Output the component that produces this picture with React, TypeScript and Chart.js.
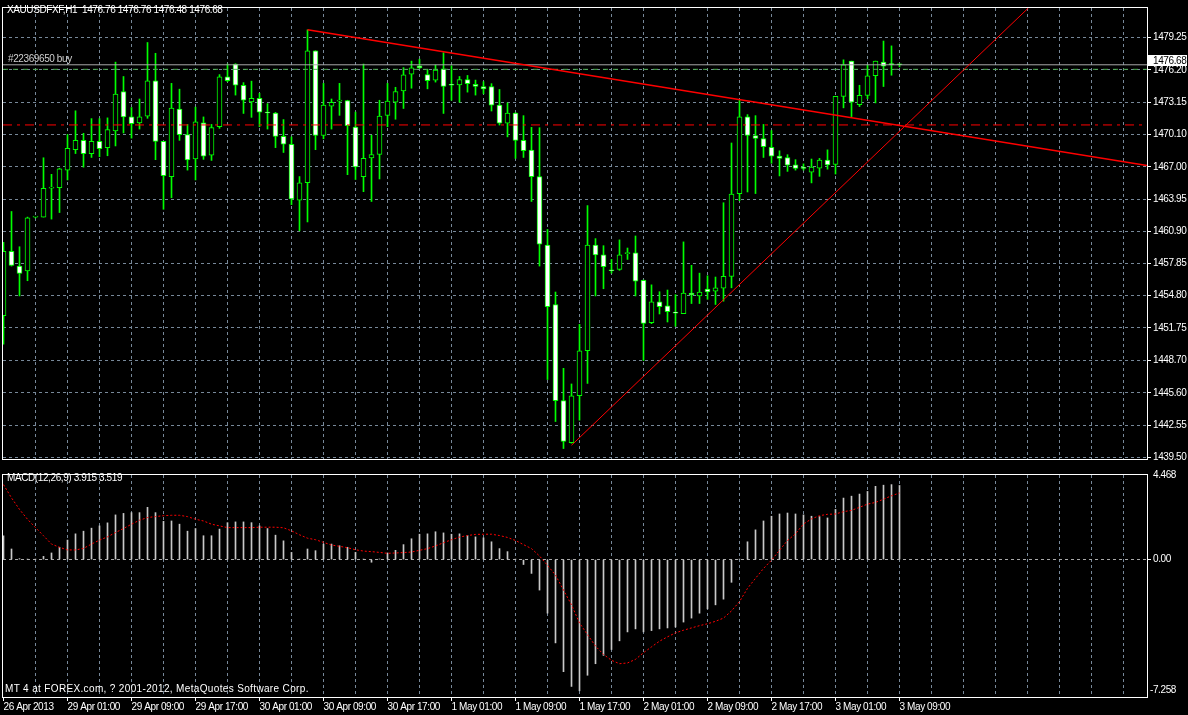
import React, { useEffect, useRef } from "react";
import { Chart, registerables } from "chart.js";

Chart.register(...registerables);

// ---------- texts ----------
const HEADER_TEXT = "XAUUSDFXF,H1  1476.76 1476.76 1476.48 1476.68";
const ORDER_TEXT = "#22369650 buy";
const MACD_TEXT = "MACD(12,26,9) 3.915 3.519";
const COPYRIGHT_TEXT = "MT 4 at FOREX.com, ? 2001-2012, MetaQuotes Software Corp.";
const LAST_PRICE_TEXT = "1476.68";
const MACD_MAX_TEXT = "4.468";
const MACD_MIN_TEXT = "-7.258";

// ---------- time axis ----------
const TIME_LABELS = [
  "26 Apr 2013", "29 Apr 01:00", "29 Apr 09:00", "29 Apr 17:00", "30 Apr 01:00",
  "30 Apr 09:00", "30 Apr 17:00", "1 May 01:00", "1 May 09:00", "1 May 17:00",
  "2 May 01:00", "2 May 09:00", "2 May 17:00", "3 May 01:00", "3 May 09:00",
];
const BARS_PER_LABEL = 8;
const BARS_PER_GRID = 4;
const X_MIN = -0.0625;
const X_MAX = 142.9375;

// ---------- H1 candles ----------
const OPEN = [
  1452.92, 1459.00, 1457.61, 1457.15, 1462.25, 1462.25, 1465.00, 1465.03, 1466.70, 1468.64,
  1469.52, 1468.27, 1469.42, 1468.83, 1470.41, 1474.15, 1471.74, 1471.18, 1471.80, 1475.17,
  1469.42, 1466.09, 1472.49, 1470.07, 1467.75, 1471.18, 1468.12, 1470.81, 1475.54, 1476.75,
  1474.74, 1473.16, 1473.50, 1472.14, 1472.11, 1469.89, 1469.15, 1463.86, 1465.50, 1478.01,
  1469.98, 1472.76, 1473.23, 1473.28, 1470.78, 1466.09, 1467.85, 1468.18, 1471.89, 1473.13,
  1474.21, 1475.79, 1476.59, 1475.75, 1475.23, 1476.29, 1474.80, 1474.77, 1475.27, 1474.83,
  1474.62, 1474.62, 1472.86, 1471.15, 1472.11, 1469.52, 1468.59, 1466.09, 1459.60, 1453.95,
  1444.86, 1440.87, 1445.32, 1449.59, 1459.60, 1458.67, 1457.19, 1457.28, 1458.79, 1458.86,
  1456.26, 1452.24, 1454.22, 1453.85, 1453.19, 1453.11, 1455.05, 1454.78, 1455.42, 1455.24,
  1455.52, 1456.63, 1464.48, 1471.74, 1469.98, 1469.70, 1468.87, 1468.03, 1467.88, 1467.20,
  1466.90, 1466.51, 1466.88, 1467.66, 1467.25, 1473.69, 1477.03, 1472.91, 1473.78, 1475.64,
  1476.93, 1476.73, 1476.76,
];
const HIGH = [
  1459.87, 1462.78, 1459.44, 1462.25, 1462.31, 1467.87, 1466.30, 1466.88, 1470.07, 1472.32,
  1470.19, 1471.58, 1471.58, 1471.65, 1476.93, 1475.57, 1472.63, 1473.44, 1478.79, 1477.77,
  1469.42, 1474.92, 1474.37, 1471.03, 1472.67, 1471.74, 1471.03, 1475.75, 1476.75, 1476.78,
  1474.99, 1475.13, 1473.97, 1473.00, 1472.17, 1471.49, 1469.85, 1466.09, 1479.99, 1478.01,
  1474.92, 1473.44, 1474.92, 1473.32, 1472.20, 1476.75, 1470.01, 1473.32, 1474.92, 1474.55,
  1476.41, 1477.03, 1477.21, 1476.25, 1476.66, 1477.82, 1476.59, 1475.57, 1475.67, 1475.23,
  1475.08, 1474.89, 1474.34, 1473.07, 1472.14, 1471.86, 1470.75, 1470.72, 1461.08, 1455.15,
  1447.92, 1446.44, 1452.09, 1463.34, 1460.21, 1459.54, 1458.24, 1460.09, 1459.32, 1460.46,
  1456.29, 1455.83, 1455.18, 1455.34, 1454.90, 1459.90, 1457.68, 1456.94, 1456.69, 1456.57,
  1463.61, 1469.27, 1473.38, 1471.96, 1471.86, 1471.03, 1470.45, 1468.53, 1468.16, 1467.69,
  1467.29, 1467.75, 1467.81, 1468.62, 1473.69, 1477.15, 1477.03, 1474.74, 1476.66, 1477.03,
  1478.93, 1478.47, 1476.76,
];
const LOW = [
  1450.20, 1457.61, 1454.78, 1456.22, 1462.17, 1462.25, 1462.06, 1462.68, 1465.77, 1468.27,
  1466.98, 1467.90, 1467.97, 1468.06, 1468.99, 1470.22, 1469.73, 1470.59, 1471.61, 1467.69,
  1462.99, 1464.08, 1469.52, 1466.70, 1465.77, 1467.72, 1467.62, 1470.66, 1475.08, 1473.81,
  1472.07, 1471.70, 1470.81, 1470.59, 1468.83, 1468.37, 1463.43, 1460.95, 1461.79, 1468.64,
  1469.67, 1470.59, 1471.89, 1466.27, 1465.81, 1464.66, 1463.73, 1465.86, 1470.81, 1471.52,
  1472.54, 1474.46, 1476.31, 1474.40, 1475.04, 1472.07, 1473.32, 1473.13, 1474.09, 1473.81,
  1473.93, 1472.30, 1470.97, 1469.85, 1467.81, 1467.90, 1463.73, 1457.61, 1446.86, 1442.88,
  1440.32, 1440.83, 1443.01, 1446.49, 1454.78, 1455.46, 1456.94, 1457.21, 1458.24, 1454.78,
  1448.66, 1452.15, 1453.07, 1452.31, 1451.90, 1453.11, 1454.06, 1454.06, 1454.46, 1453.97,
  1454.28, 1455.55, 1463.80, 1464.63, 1464.48, 1467.90, 1467.35, 1466.15, 1466.58, 1466.70,
  1466.70, 1465.49, 1466.11, 1466.79, 1466.33, 1472.60, 1471.77, 1472.72, 1473.47, 1473.07,
  1474.62, 1475.69, 1476.48,
];
const CLOSE = [
  1459.00, 1457.68, 1456.91, 1462.19, 1462.29, 1464.97, 1465.03, 1466.83, 1468.77, 1469.52,
  1468.27, 1469.42, 1468.74, 1470.54, 1473.90, 1471.74, 1471.09, 1471.74, 1475.17, 1469.42,
  1466.18, 1472.58, 1470.07, 1467.66, 1471.28, 1468.03, 1470.72, 1475.54, 1475.17, 1474.74,
  1473.32, 1473.50, 1472.20, 1472.11, 1469.89, 1469.15, 1463.96, 1465.50, 1478.01, 1469.98,
  1472.86, 1473.13, 1473.28, 1470.91, 1467.01, 1467.81, 1468.18, 1471.83, 1473.23, 1474.15,
  1475.73, 1476.38, 1476.38, 1475.17, 1476.19, 1474.62, 1474.74, 1475.27, 1474.90, 1474.62,
  1474.40, 1472.86, 1471.15, 1472.11, 1469.52, 1468.55, 1466.09, 1459.69, 1453.76, 1444.86,
  1440.99, 1445.32, 1449.59, 1459.60, 1458.67, 1457.56, 1457.17, 1458.67, 1458.84, 1456.17,
  1452.18, 1454.22, 1453.76, 1453.30, 1453.15, 1455.05, 1454.87, 1455.15, 1455.15, 1455.55,
  1456.63, 1464.42, 1471.74, 1469.98, 1469.70, 1468.93, 1468.03, 1467.81, 1467.16, 1466.86,
  1466.87, 1466.98, 1467.66, 1467.20, 1473.69, 1476.68, 1473.13, 1473.78, 1475.64, 1477.03,
  1476.56, 1476.69, 1476.68,
];

// ---------- MACD(12,26,9) ----------
const MACD_MAIN = [
  1.26, 0.56, 0.05, 0.02, 0.02, 0.17, 0.35, 0.65, 1.03, 1.36,
  1.50, 1.66, 1.78, 1.94, 2.36, 2.44, 2.48, 2.48, 2.76, 2.48,
  2.02, 2.04, 1.87, 1.50, 1.64, 1.26, 1.26, 1.61, 1.95, 1.99,
  1.99, 1.95, 1.78, 1.64, 1.29, 0.99, 0.38, 0.02, 0.56, 0.47,
  0.82, 0.82, 0.73, 0.65, 0.38, 0.02, -0.14, 0.03, 0.35, 0.49,
  0.79, 1.10, 1.34, 1.36, 1.47, 1.41, 1.34, 1.36, 1.27, 1.20,
  1.15, 0.94, 0.58, 0.42, 0.02, -0.26, -0.73, -1.61, -2.83, -4.40,
  -5.92, -6.70, -6.93, -6.11, -5.50, -5.06, -4.75, -4.29, -3.82, -3.66,
  -3.82, -3.75, -3.66, -3.61, -3.56, -3.30, -3.09, -2.83, -2.60, -2.39,
  -2.09, -1.20, 0.02, 0.94, 1.57, 2.04, 2.29, 2.41, 2.46, 2.41,
  2.36, 2.29, 2.27, 2.20, 2.65, 3.25, 3.35, 3.46, 3.60, 3.87,
  3.93, 3.96, 3.915,
];
const MACD_SIGNAL = [
  3.96, 3.26, 2.65, 2.13, 1.69, 1.26, 0.82, 0.65, 0.51, 0.51,
  0.59, 0.82, 1.03, 1.20, 1.43, 1.64, 1.87, 2.08, 2.22, 2.27,
  2.32, 2.34, 2.34, 2.27, 2.13, 2.04, 1.87, 1.78, 1.69, 1.69,
  1.69, 1.69, 1.71, 1.71, 1.71, 1.68, 1.52, 1.31, 1.13, 1.05,
  0.91, 0.77, 0.70, 0.63, 0.52, 0.45, 0.42, 0.38, 0.33, 0.35,
  0.37, 0.40, 0.49, 0.58, 0.72, 0.89, 1.05, 1.19, 1.27, 1.33,
  1.34, 1.34, 1.27, 1.17, 1.01, 0.79, 0.58, 0.19, -0.30, -0.82,
  -1.61, -2.39, -3.35, -3.96, -4.57, -5.01, -5.32, -5.50, -5.46, -5.27,
  -4.92, -4.61, -4.31, -4.08, -3.87, -3.73, -3.61, -3.49, -3.39, -3.26,
  -3.09, -2.71, -2.22, -1.52, -0.99, -0.47, -0.03, 0.49, 1.01, 1.36,
  1.88, 2.15, 2.32, 2.39, 2.41, 2.53, 2.60, 2.76, 2.93, 3.02,
  3.19, 3.37, 3.519,
];

// ---------- axes ----------
const PRICE_TICKS = [
  1479.25, 1476.20, 1473.15, 1470.10, 1467.00, 1463.95, 1460.90,
  1457.85, 1454.80, 1451.75, 1448.70, 1445.60, 1442.55, 1439.50,
];
const PRICE_MIN = 1439.33;
const PRICE_MAX = 1482.06;
const MACD_MIN = -7.258;
const MACD_MAX = 4.468;
const MACD_TICKS = [0];

// ---------- chart objects ----------
const BID_PRICE = 1476.68;
const ORDER_PRICE = 1476.25;
const STOP_PRICE = 1470.98;
const TREND_DOWN_X = [38, 142.94];
const TREND_DOWN_Y = [1479.99, 1467.13];
const TREND_UP_X = [71, 128.1];
const TREND_UP_Y = [1440.63, 1482.06];

// ---------- styles ----------
const FONT = '"Liberation Sans", Arial, sans-serif';
const GRID = "#778899";
const CANDLE = "#00ff00";
const W = 1188;
const PRICE_H = 467;
const MACD_H = 248;

const gridTickValues = () => {
  const out: number[] = [];
  for (let k = 0; k <= Math.floor(X_MAX); k += BARS_PER_GRID) out.push(k);
  return out;
};

const labelFor = (v: number) => {
  const k = Math.round(v);
  if (k % BARS_PER_LABEL !== 0) return "";
  const i = k / BARS_PER_LABEL;
  return i < TIME_LABELS.length ? TIME_LABELS[i] : "";
};

const framePlugin = {
  id: "frame",
  beforeDraw(chart: any) {
    chart.ctx.letterSpacing = "-0.4px";
  },
  afterDraw(chart: any) {
    const { ctx, chartArea: a } = chart;
    ctx.save();
    ctx.strokeStyle = "#ffffff";
    ctx.lineWidth = 1;
    ctx.setLineDash([]);
    ctx.strokeRect(a.left - 0.5, a.top - 0.5, a.right - a.left + 1, a.bottom - a.top + 1);
    ctx.restore();
  },
};

const hLine = (y: number) => [
  { x: X_MIN, y },
  { x: X_MAX, y },
];

function priceConfig(): any {
  const bodies = OPEN.map((o, i) => ({ x: i, y: [o, CLOSE[i]] }));
  const wicks = LOW.map((l, i) => ({ x: i, y: [l, HIGH[i]] }));
  const bodyColors = OPEN.map((o, i) => (CLOSE[i] < o ? "#ffffff" : "#000000"));
  const lineBase = { type: "line", pointRadius: 0, borderWidth: 1, tension: 0, fill: false };
  return {
    type: "bar",
    data: {
      datasets: [
        { ...lineBase, label: "down trend", data: TREND_DOWN_X.map((x, i) => ({ x, y: TREND_DOWN_Y[i] })), borderColor: "#ff0000", borderWidth: 1.5, order: 0 },
        { ...lineBase, label: "up trend", data: TREND_UP_X.map((x, i) => ({ x, y: TREND_UP_Y[i] })), borderColor: "#ff0000", order: 0 },
        { ...lineBase, label: "bid", data: hLine(BID_PRICE), borderColor: "#a8a8a8", order: 1 },
        { ...lineBase, label: "order", data: hLine(ORDER_PRICE), borderColor: "#4caf50", borderDash: [5, 5], order: 1 },
        { ...lineBase, label: "stop", data: hLine(STOP_PRICE), borderColor: "#ff0000", borderDash: [9, 5, 3, 5], order: 1 },
        {
          type: "bar", label: "body", data: bodies, backgroundColor: bodyColors, borderColor: CANDLE,
          borderWidth: 1, borderSkipped: false, barThickness: 5, grouped: false, minBarLength: 1, order: 2,
        },
        {
          type: "bar", label: "wick", data: wicks, backgroundColor: CANDLE, borderWidth: 0,
          barThickness: 1, grouped: false, minBarLength: 1, order: 3,
        },
      ],
    },
    options: {
      responsive: false,
      animation: false,
      events: [],
      layout: { padding: { left: 3, top: 3, right: 0, bottom: 3 } },
      plugins: { legend: { display: false }, tooltip: { enabled: false } },
      scales: {
        x: {
          type: "linear", min: X_MIN, max: X_MAX, offset: false,
          afterBuildTicks: (s: any) => { s.ticks = gridTickValues().map((v) => ({ value: v })); },
          afterFit: (s: any) => { s.height = 0; },
          ticks: { display: false },
          grid: { offset: false, drawTicks: false, color: (c: any) => (c.tick && c.tick.value === 0 ? "rgba(0,0,0,0)" : GRID) },
          border: { display: false, dash: [3, 3] },
        },
        y: {
          type: "linear", position: "right", min: PRICE_MIN, max: PRICE_MAX,
          afterBuildTicks: (s: any) => { s.ticks = PRICE_TICKS.map((v) => ({ value: v })); },
          afterFit: (s: any) => { s.width = W - 1147; },
          ticks: { color: "#ffffff", font: { family: FONT, size: 10 }, padding: 2, callback: (v: any) => Number(v).toFixed(2) },
          grid: { color: GRID, tickColor: "#ffffff", tickLength: 4, drawTicks: true, tickBorderDash: [] },
          border: { display: false, dash: [3, 3] },
        },
      },
    },
    plugins: [framePlugin],
  };
}

function macdConfig(): any {
  return {
    type: "bar",
    data: {
      datasets: [
        {
          type: "line", label: "signal", data: MACD_SIGNAL.map((v, i) => ({ x: i, y: v })),
          borderColor: "#ff0000", borderWidth: 1, borderDash: [2, 2], pointRadius: 0, tension: 0, fill: false, order: 0,
        },
        {
          type: "bar", label: "macd", data: MACD_MAIN.map((v, i) => ({ x: i, y: v })),
          backgroundColor: "#c8c8c8", borderWidth: 0, barThickness: 1, grouped: false, order: 1,
        },
      ],
    },
    options: {
      responsive: false,
      animation: false,
      events: [],
      layout: { padding: { left: 3, top: 2, right: 0, bottom: 0 } },
      plugins: { legend: { display: false }, tooltip: { enabled: false } },
      scales: {
        x: {
          type: "linear", min: X_MIN, max: X_MAX, offset: false,
          afterBuildTicks: (s: any) => { s.ticks = gridTickValues().map((v) => ({ value: v })); },
          afterFit: (s: any) => { s.height = 18; },
          ticks: {
            display: true, autoSkip: false, maxRotation: 0, minRotation: 0, align: "start", padding: 0,
            color: "#ffffff", font: { family: FONT, size: 10 }, callback: (v: any) => labelFor(Number(v)),
          },
          grid: {
            offset: false, drawTicks: true, tickLength: 4, tickBorderDash: [],
            color: (c: any) => (c.tick && c.tick.value === 0 ? "rgba(0,0,0,0)" : GRID),
            tickColor: (c: any) => (c.tick && labelFor(c.tick.value) ? "#ffffff" : "rgba(0,0,0,0)"),
          },
          border: { display: false, dash: [3, 3] },
        },
        y: {
          type: "linear", position: "right", min: MACD_MIN, max: MACD_MAX,
          afterBuildTicks: (s: any) => { s.ticks = MACD_TICKS.map((v) => ({ value: v })); },
          afterFit: (s: any) => { s.width = W - 1147; },
          ticks: { color: "#ffffff", font: { family: FONT, size: 10 }, padding: 2, callback: (v: any) => Number(v).toFixed(2) },
          grid: { color: "#a9a9a9", tickColor: "#ffffff", tickLength: 4, drawTicks: true, tickBorderDash: [] },
          border: { display: false, dash: [3, 3] },
        },
      },
    },
    plugins: [framePlugin],
  };
}

const textStyle: React.CSSProperties = {
  position: "absolute",
  fontFamily: FONT,
  fontSize: 10,
  lineHeight: "11px",
  color: "#ffffff",
  letterSpacing: "-0.4px",
  whiteSpace: "pre",
  pointerEvents: "none",
};

export default function App() {
  const priceRef = useRef<HTMLCanvasElement>(null);
  const macdRef = useRef<HTMLCanvasElement>(null);

  useEffect(() => {
    document.body.style.margin = "0";
    document.body.style.background = "#000";
    const c1 = new Chart(priceRef.current as HTMLCanvasElement, priceConfig());
    const c2 = new Chart(macdRef.current as HTMLCanvasElement, macdConfig());
    return () => {
      c1.destroy();
      c2.destroy();
    };
  }, []);

  return (
    <div style={{ position: "relative", width: W, height: PRICE_H + MACD_H, background: "#000", overflow: "hidden" }}>
      <canvas ref={priceRef} width={W} height={PRICE_H} style={{ position: "absolute", left: 0, top: 0 }} />
      <canvas ref={macdRef} width={W} height={MACD_H} style={{ position: "absolute", left: 0, top: PRICE_H }} />
      <div style={{ ...textStyle, left: 7, top: 4 }}>{HEADER_TEXT}</div>
      <div style={{ ...textStyle, left: 8, top: 53, color: "#d0d0d0" }}>{ORDER_TEXT}</div>
      <div style={{ ...textStyle, left: 1148, top: 55, width: 39, height: 11, background: "#ffffff", color: "#000000", paddingLeft: 5, boxSizing: "border-box" }}>{LAST_PRICE_TEXT}</div>
      <div style={{ ...textStyle, left: 7, top: 472 }}>{MACD_TEXT}</div>
      <div style={{ ...textStyle, left: 1153, top: 469 }}>{MACD_MAX_TEXT}</div>
      <div style={{ ...textStyle, left: 1150, top: 684 }}>{MACD_MIN_TEXT}</div>
      <div style={{ ...textStyle, left: 5, top: 683, letterSpacing: "0.35px" }}>{COPYRIGHT_TEXT}</div>
    </div>
  );
}
